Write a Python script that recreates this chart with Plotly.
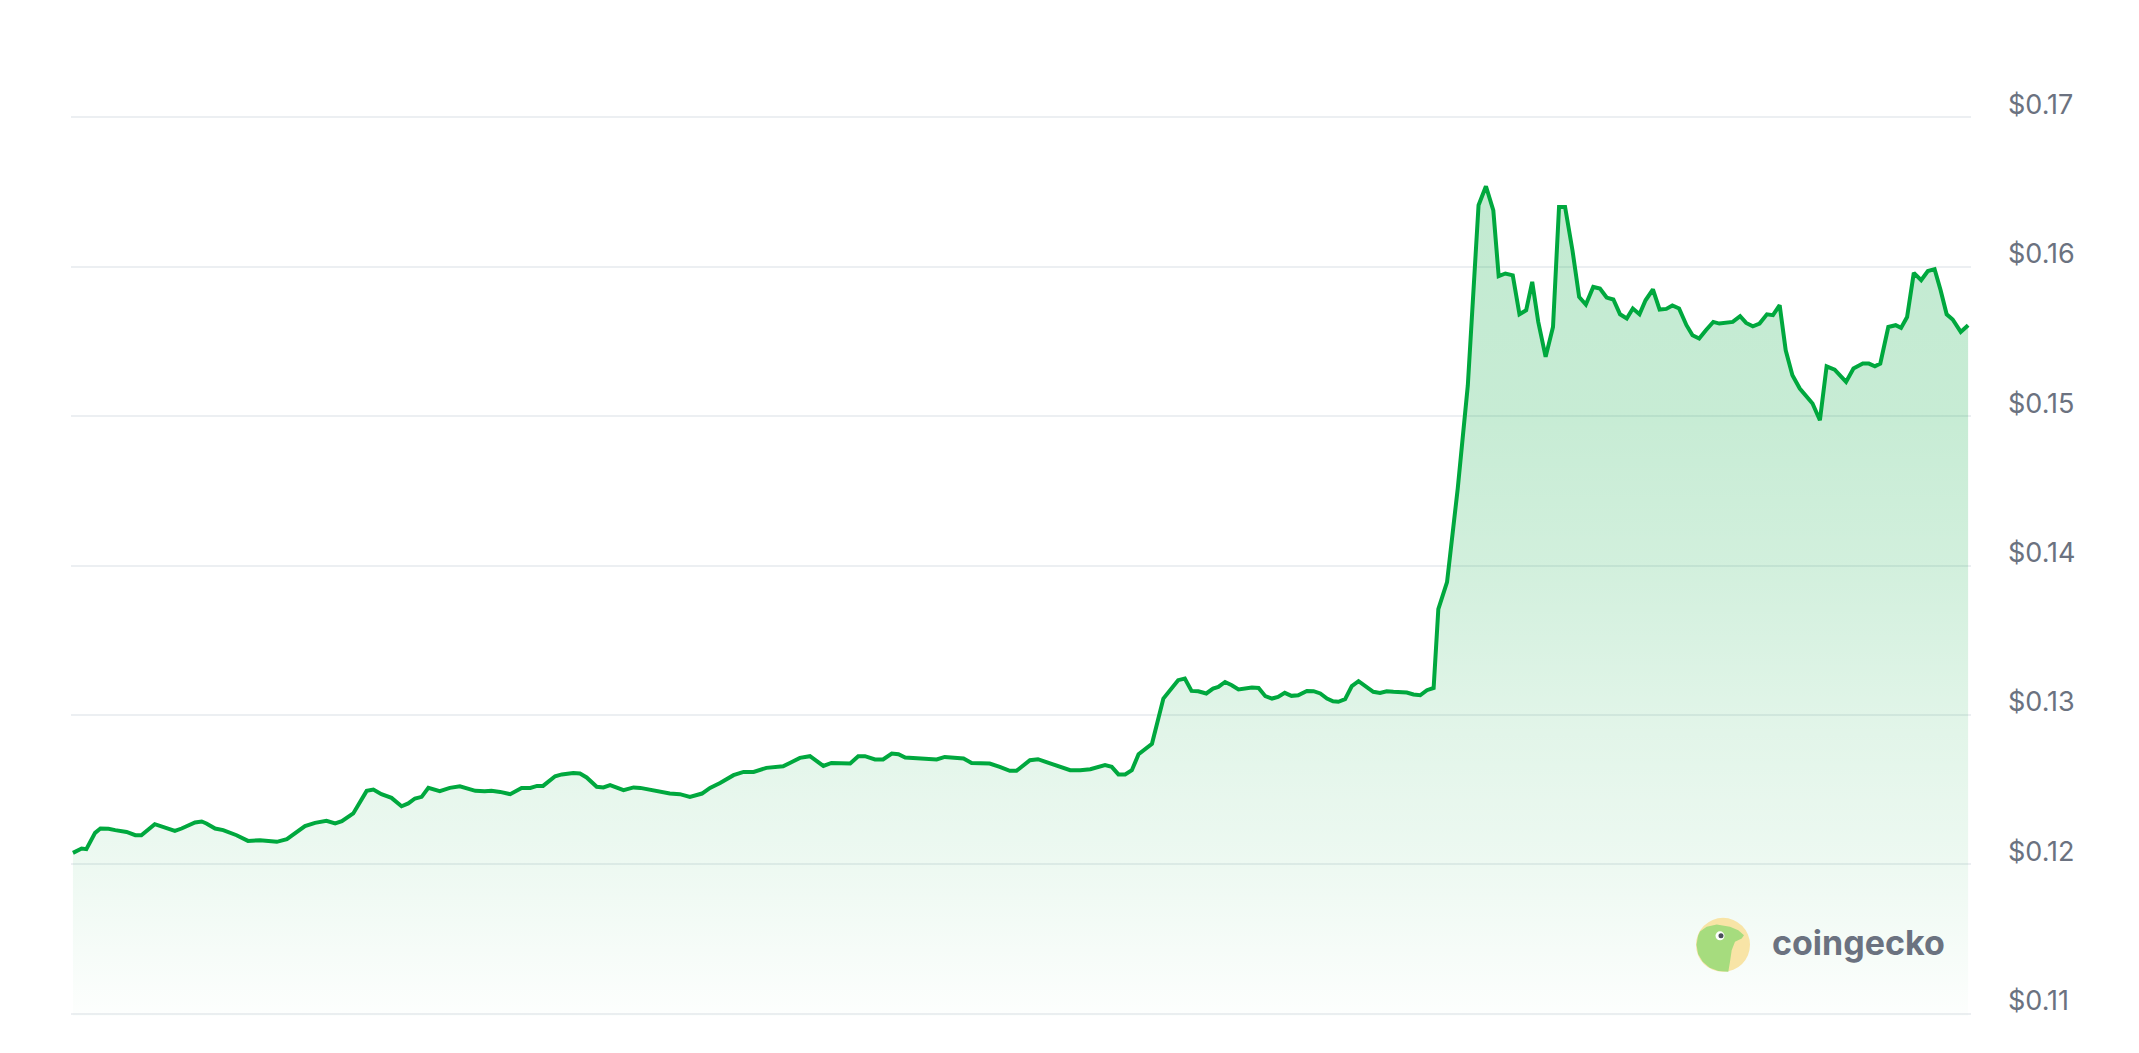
import plotly.graph_objects as go

# time (hours from start) and price (USD)
hours = [
    0.1, 1.4, 2.1, 3.4, 4.2, 5.4, 6.4, 8.1, 9.4, 10.3,
    12.3, 15.3, 16.3, 18.3, 19.3, 20.0, 21.3, 22.5, 24.5, 26.2,
    28.0, 29.5, 30.5, 32.0, 33.5, 34.7, 36.2, 37.9, 39.2, 40.2,
    41.9, 43.9, 44.9, 46.1, 47.6, 49.1, 50.1, 51.1, 52.1, 53.1,
    54.8, 56.3, 57.8, 59.1, 60.1, 61.5, 62.5, 63.8, 65.3, 67.0,
    68.3, 69.3, 70.2, 72.0, 73.0, 74.7, 75.7, 76.7, 78.2, 79.2,
    80.2, 82.2, 83.7, 84.7, 86.6, 87.6, 89.1, 90.6, 92.1, 93.9,
    95.1, 96.6, 98.6, 100.1, 101.6, 103.5, 106.0, 107.0, 108.5, 110.0,
    112.0, 113.2, 114.7, 116.0, 117.2, 118.2, 119.7, 120.9, 122.2, 123.2,
    124.2, 125.9, 128.9, 130.1, 131.4, 132.9, 134.1, 135.4, 136.8, 138.3,
    139.8, 140.8, 142.8, 144.0, 146.8, 148.8, 150.3, 151.8, 154.0, 155.0,
    156.0, 157.0, 158.0, 159.0, 161.0, 162.7, 164.9, 165.9, 166.9, 167.9,
    169.1, 170.1, 170.9, 171.9, 172.9, 173.9, 175.9, 176.9, 177.9, 178.9,
    179.8, 180.8, 181.8, 182.8, 184.1, 185.1, 186.1, 187.1, 188.0, 188.8,
    189.8, 190.8, 191.8, 193.0, 194.0, 195.0, 196.0, 197.0, 199.0, 200.0,
    201.0, 202.0, 203.0, 203.7, 205.0, 206.6, 208.1, 209.7, 210.8, 211.9,
    212.7, 213.7, 214.8, 215.8, 216.8, 217.7, 218.6, 219.7, 220.8, 221.7,
    222.6, 223.7, 224.7, 225.7, 226.8, 227.8, 228.8, 229.8, 230.8, 231.8,
    232.7, 233.7, 234.6, 235.7, 236.7, 237.7, 238.6, 239.6, 240.7, 241.6,
    242.6, 243.6, 244.7, 245.6, 246.8, 247.6, 248.7, 249.6, 250.6, 251.6,
    252.7, 253.6, 254.6, 255.5, 256.5, 257.6, 259.5, 260.6, 261.6, 262.8,
    264.5, 265.6, 267.0, 267.9, 268.8, 269.6, 270.8, 271.9, 272.7, 273.6,
    274.6, 275.7, 276.7, 277.7, 278.6, 279.5, 280.4, 281.6, 282.7,
]

prices = [
    0.12077, 0.12106, 0.12102, 0.12211, 0.12240, 0.12238, 0.12229, 0.12217, 0.12195, 0.12195,
    0.12269, 0.12224, 0.12240, 0.12280, 0.12287, 0.12274, 0.12240, 0.12229, 0.12195, 0.12157,
    0.12162, 0.12157, 0.12151, 0.12169, 0.12217, 0.12256, 0.12278, 0.12291, 0.12274, 0.12289,
    0.12341, 0.12492, 0.12501, 0.12470, 0.12445, 0.12389, 0.12408, 0.12441, 0.12452, 0.12512,
    0.12490, 0.12512, 0.12523, 0.12503, 0.12492, 0.12490, 0.12492, 0.12485, 0.12470, 0.12512,
    0.12512, 0.12525, 0.12525, 0.12590, 0.12602, 0.12612, 0.12608, 0.12582, 0.12519, 0.12515,
    0.12530, 0.12497, 0.12515, 0.12512, 0.12497, 0.12485, 0.12474, 0.12470, 0.12452, 0.12474,
    0.12512, 0.12545, 0.12597, 0.12619, 0.12619, 0.12646, 0.12657, 0.12679, 0.12713, 0.12724,
    0.12659, 0.12679, 0.12679, 0.12675, 0.12724, 0.12724, 0.12702, 0.12702, 0.12742, 0.12737,
    0.12715, 0.12709, 0.12702, 0.12719, 0.12713, 0.12709, 0.12679, 0.12675, 0.12675, 0.12653,
    0.12626, 0.12626, 0.12697, 0.12704, 0.12664, 0.12630, 0.12630, 0.12637, 0.12664, 0.12653,
    0.12602, 0.12602, 0.12630, 0.12737, 0.12807, 0.13110, 0.13233, 0.13244, 0.13161, 0.13159,
    0.13144, 0.13177, 0.13188, 0.13221, 0.13199, 0.13171, 0.13184, 0.13181, 0.13126, 0.13110,
    0.13121, 0.13148, 0.13128, 0.13132, 0.13161, 0.13159, 0.13144, 0.13110, 0.13092, 0.13088,
    0.13106, 0.13193, 0.13226, 0.13184, 0.13155, 0.13148, 0.13159, 0.13155, 0.13150, 0.13137,
    0.13132, 0.13166, 0.13181, 0.13708, 0.13889, 0.14518, 0.15207, 0.16412, 0.16539, 0.16378,
    0.15937, 0.15955, 0.15943, 0.15682, 0.15709, 0.15899, 0.15631, 0.15397, 0.15597, 0.16401,
    0.16401, 0.16111, 0.15798, 0.15747, 0.15865, 0.15854, 0.15794, 0.15781, 0.15682, 0.15654,
    0.15721, 0.15682, 0.15776, 0.15848, 0.15714, 0.15718, 0.15741, 0.15721, 0.15609, 0.15542,
    0.15520, 0.15575, 0.15631, 0.15620, 0.15629, 0.15631, 0.15669, 0.15624, 0.15602, 0.15620,
    0.15682, 0.15676, 0.15743, 0.15441, 0.15274, 0.15185, 0.15085, 0.14973, 0.15334, 0.15312,
    0.15229, 0.15319, 0.15352, 0.15352, 0.15334, 0.15352, 0.15597, 0.15609, 0.15591, 0.15664,
    0.15959, 0.15910, 0.15972, 0.15984, 0.15843, 0.15682, 0.15647, 0.15564, 0.15609,
]

tick_values = [0.11, 0.12, 0.13, 0.14, 0.15, 0.16, 0.17]
tick_labels = ["$0.11", "$0.12", "$0.13", "$0.14", "$0.15", "$0.16", "$0.17"]
brand_name = "coingecko"

assert len(hours) == len(prices)

LINE = "#00a83e"

fig = go.Figure()
fig.add_trace(go.Scatter(
    x=hours, y=prices, mode="lines",
    line=dict(color=LINE, width=4),
    fill="tozeroy",
    fillgradient=dict(
        type="vertical", start=0.11, stop=0.1654,
        colorscale=[
            [0.0, "rgba(0,168,62,0.01)"],
            [0.18, "rgba(0,168,62,0.07)"],
            [0.36, "rgba(0,168,62,0.12)"],
            [0.55, "rgba(0,168,62,0.18)"],
            [0.72, "rgba(0,168,62,0.22)"],
            [1.0, "rgba(0,168,62,0.24)"],
        ],
    ),
    hoverinfo="skip",
    showlegend=False,
))

# CoinGecko logo (decoration)
lx, ly = 0.86947, 0.07215
shape_common = dict(xref="paper", yref="paper", xsizemode="pixel", ysizemode="pixel",
                    xanchor=lx, yanchor=ly, layer="above")
gecko_path = ("M 5.3,-27 L 7,-17 L 8.7,-5.3 L 12,3 L 18.7,6.3 L 21,9.7 L 15.3,14.7 "
              "L 7,18 L -6.3,20.3 L -16.3,18 L -23,13.3 L -24.9,9.1 L -26.5,0 "
              "L -24.9,-9.1 L -20.3,-17 L -13.3,-22.9 L -4.6,-26.1 Z")
fig.add_shape(type="circle", x0=-27, x1=27, y0=-27, y1=27,
              fillcolor="#f8e4a6", line=dict(width=0), **shape_common)
fig.add_shape(type="path", path=gecko_path, fillcolor="#a6dc7e",
              line=dict(width=0), **shape_common)
fig.add_shape(type="circle", x0=-7.5, x1=1.5, y0=4.5, y1=13.5,
              fillcolor="white", line=dict(width=0), **shape_common)
fig.add_shape(type="circle", x0=-4.5, x1=0.5, y0=6.5, y1=11.5,
              fillcolor="#4a4f5a", line=dict(width=0), **shape_common)

fig.add_annotation(xref="paper", yref="paper", x=0.8942, y=0.0742,
                   xanchor="left", yanchor="middle", showarrow=False,
                   text=brand_name,
                   font=dict(family="Inter, Lato, sans-serif", size=34,
                             color="#6b7280", weight=700))

fig.update_layout(
    width=2139, height=1053, autosize=False,
    margin=dict(l=71, r=168, t=30, b=37, pad=0),
    paper_bgcolor="white", plot_bgcolor="white",
    xaxis=dict(range=[-0.19, 283.13], visible=False, fixedrange=True),
    yaxis=dict(
        range=[0.10985, 0.17585], side="right",
        tickvals=tick_values, ticktext=tick_labels,
        showgrid=True, gridcolor="#eceff2", gridwidth=1.5,
        zeroline=False, showline=False, ticks="",
        ticklabelstandoff=36, ticklabelshift=-13,
        tickfont=dict(family="Inter, sans-serif", size=27, color="#6b7280"),
        automargin=False, fixedrange=True,
    ),
)

fig.write_html("out.html", config={"displayModeBar": False},
               post_script="document.body.style.margin='0';")
